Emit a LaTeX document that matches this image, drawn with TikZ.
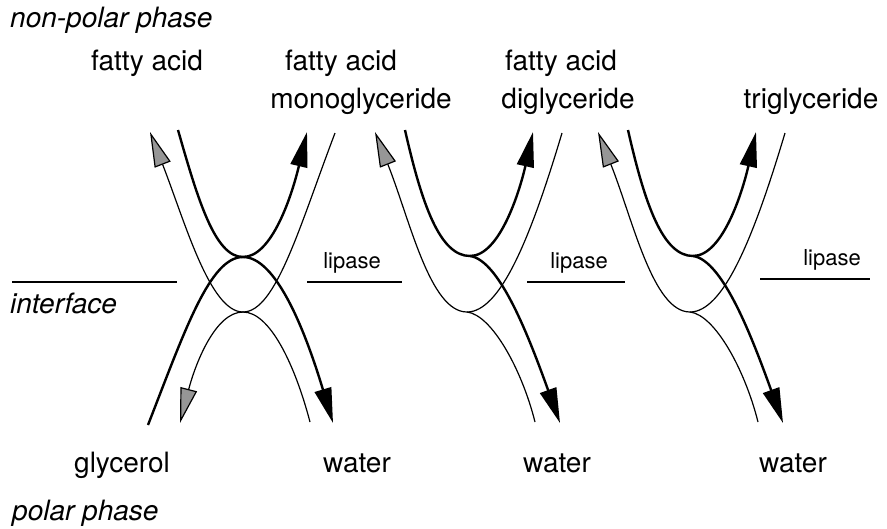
\documentclass[tikz,border=0pt]{standalone}
\usepackage{fontspec}
\setmainfont{TeX Gyre Heros}
\usetikzlibrary{arrows.meta}
\definecolor{tipgrey}{RGB}{150,150,150}

\begin{document}
\begin{tikzpicture}[x=1pt,y=-1pt,
    lbl/.style={font=\fontsize{28}{32}\selectfont,anchor=base,inner sep=0pt},
    phase/.style={font=\fontsize{28}{32}\selectfont\itshape,anchor=base west,inner sep=0pt},
    enz/.style={font=\fontsize{22}{26}\selectfont,anchor=base,inner sep=0pt},
    heavy/.style={line width=2.4pt,-{Triangle[length=35pt,width=17pt]}},
    heavyplain/.style={line width=2.4pt},
    light/.style={line width=1.2pt},
    greytip/.style={line width=1.2pt,{Triangle[length=35pt,width=17pt,fill=tipgrey]}-},
    level/.style={line width=1.1pt}]
  \useasboundingbox (0,0) rectangle (887,528);

  % phases and interface
  \node[phase] (nonpolar) at (10,27) {non-polar phase};
  \node[phase] (iface) at (10,313) {interface};
  \node[phase] (polar) at (12,520) {polar phase};
  \draw[level] (12,282) -- (177,282);

  % products on top
  \node[lbl] (fa1) at (147,70) {fatty acid};
  \node[lbl] (fa2) at (341,70) {fatty acid};
  \node[lbl] (fa3) at (561,70) {fatty acid};
  \node[lbl] (mono) at (361,108) {monoglyceride};
  \node[lbl] (di) at (568,108) {diglyceride};
  \node[lbl] (tri) at (811,108) {triglyceride};

  % bottom row
  \node[lbl] (glyc) at (122,472) {glycerol};
  \foreach \x/\n in {357/1, 557/2, 793/3}{
    \node[lbl] (w\n) at (\x,472) {water};
  }

  % lipase marks
  \foreach \n/\x/\y/\a/\b in {1/352/268/307/402, 2/579/268/527/625, 3/832/265/760/870}{
    \node[enz] (lip\n) at (\x,\y) {lipase};
    \draw[level] (\a,\y+14) -- (\b,\y+14);
  }

  % first step: monoglyceride + water <-> glycerol + fatty acid
  \draw[heavy] (178,130) .. controls (198,200) and (215,257) .. (243,257)
    .. controls (272,257) and (292,195) .. (307,132);
  \draw[greytip] (150,132) .. controls (185,222) and (210,312) .. (243,312)
    .. controls (276,312) and (300,225) .. (335,133);
  \draw[heavy] (148,425) .. controls (185,330) and (210,257) .. (243,257)
    .. controls (276,257) and (305,330) .. (333,423);
  \draw[greytip] (180,423) .. controls (195,365) and (215,312) .. (243,312)
    .. controls (270,312) and (295,365) .. (310,422);

  % di- and triglyceride steps
  \foreach \dx in {0,223}{
    \begin{scope}[shift={(\dx,0)}]
      \draw[heavy] (405,130) .. controls (422,205) and (440,256) .. (470,256)
        .. controls (500,256) and (520,190) .. (533,132);
      \draw[heavy] (470,256) .. controls (500,260) and (530,340) .. (560,423);
      \draw[greytip] (375,132) .. controls (410,220) and (430,312) .. (467,312)
        .. controls (500,312) and (530,240) .. (562,133);
      \draw[light] (467,312) .. controls (492,315) and (522,370) .. (535,422);
    \end{scope}
  }
\end{tikzpicture}
\end{document}
